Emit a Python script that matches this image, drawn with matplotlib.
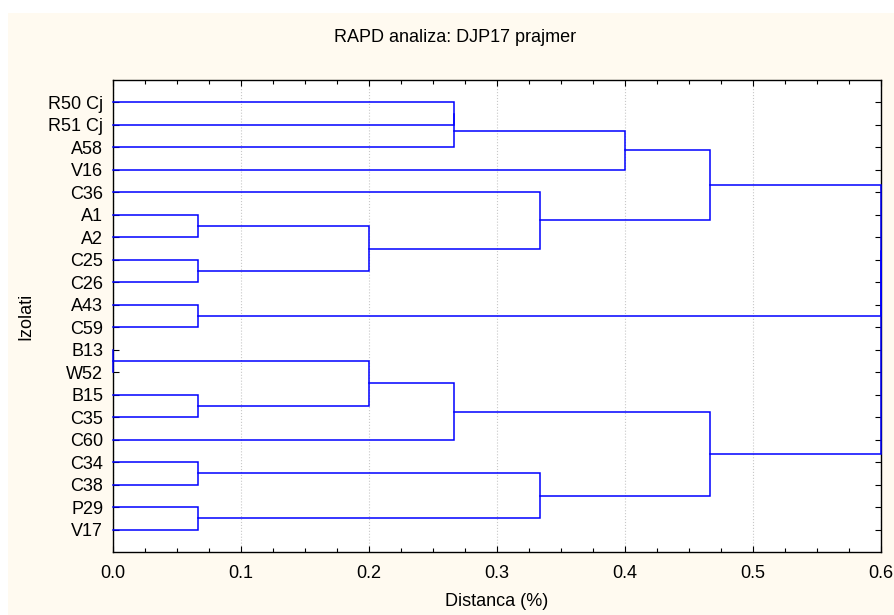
import matplotlib
matplotlib.use("Agg")
import matplotlib.pyplot as plt
from matplotlib.patches import Rectangle
from matplotlib.ticker import MultipleLocator

plt.rcParams['font.family'] = ['Liberation Sans', 'DejaVu Sans']

# leaves, top to bottom
leaves = ["R50 Cj", "R51 Cj", "A58", "V16", "C36", "A1", "A2", "C25", "C26",
          "A43", "C59", "B13", "W52", "B15", "C35", "C60", "C34", "C38", "P29", "V17"]

# merges: (node a, node b, linkage distance); leaves are 0..19, new nodes 20, 21, ...
merges = [
    (0, 1, 0.2667),    # 20
    (20, 2, 0.2667),   # 21
    (21, 3, 0.4),      # 22
    (5, 6, 0.0667),    # 23
    (7, 8, 0.0667),    # 24
    (23, 24, 0.2),     # 25
    (4, 25, 0.3333),   # 26
    (22, 26, 0.4667),  # 27
    (9, 10, 0.0667),   # 28
    (11, 12, 0.0),     # 29
    (13, 14, 0.0667),  # 30
    (29, 30, 0.2),     # 31
    (31, 15, 0.2667),  # 32
    (16, 17, 0.0667),  # 33
    (18, 19, 0.0667),  # 34
    (33, 34, 0.3333),  # 35
    (32, 35, 0.4667),  # 36
    (27, 28, 0.6),     # 37
    (37, 36, 0.6),     # 38
]

xticks = [0.0, 0.1, 0.2, 0.3, 0.4, 0.5, 0.6]
fs = 13

fig = plt.figure(figsize=(8.95, 6.15), dpi=100, facecolor="white")
fig.patches.append(Rectangle((8 / 895, 0), 1, 1 - 13 / 615, transform=fig.transFigure,
                             facecolor="#FFFAF0", edgecolor="none", zorder=-10))
ax = fig.add_axes([113 / 895, 1 - 552 / 615, 768 / 895, 472 / 615])
ax.set_facecolor("white")

pos = {i: i + 1 for i in range(len(leaves))}
hgt = {i: 0.0 for i in range(len(leaves))}
node = len(leaves)
for a, b, d in merges:
    ya, yb = pos[a], pos[b]
    ax.plot([hgt[a], d, d, hgt[b]], [ya, ya, yb, yb], color="#0000FF", lw=1.1,
            solid_joinstyle="miter", zorder=3, clip_on=False)
    pos[node] = (ya + yb) / 2
    hgt[node] = d
    node += 1

ax.set_xlim(0, 0.6)
ax.set_ylim(len(leaves) + 1, 0)
ax.set_xticks(xticks)
ax.set_xticklabels([f"{v:.1f}" for v in xticks])
ax.xaxis.set_minor_locator(MultipleLocator(0.025))
ax.set_yticks(range(1, len(leaves) + 1))
ax.set_yticklabels(leaves)
ax.tick_params(which="both", direction="in", top=True, right=True, labelsize=fs,
               width=0.8, colors="black")
ax.tick_params(which="major", length=4)
ax.tick_params(which="minor", length=3)
ax.tick_params(axis="y", pad=7)
ax.tick_params(axis="x", pad=9)
ax.grid(axis="x", which="major", color="#c8c8c8", linestyle=":", lw=0.8)
for s in ax.spines.values():
    s.set_linewidth(1.0)

fig.text(455 / 895, 1 - 38 / 615, "RAPD analiza: DJP17 prajmer", fontsize=fs,
         ha="center", va="center")
ax.set_xlabel("Distanca (%)", fontsize=fs)
ax.set_ylabel("Izolati", fontsize=fs)
ax.xaxis.set_label_coords(0.5, -0.104)
ax.yaxis.set_label_coords(-0.113, 0.5)
ax.xaxis.label.set_va("center")
ax.yaxis.label.set_va("center")

fig.savefig("out.png", dpi=100, facecolor=fig.get_facecolor())
